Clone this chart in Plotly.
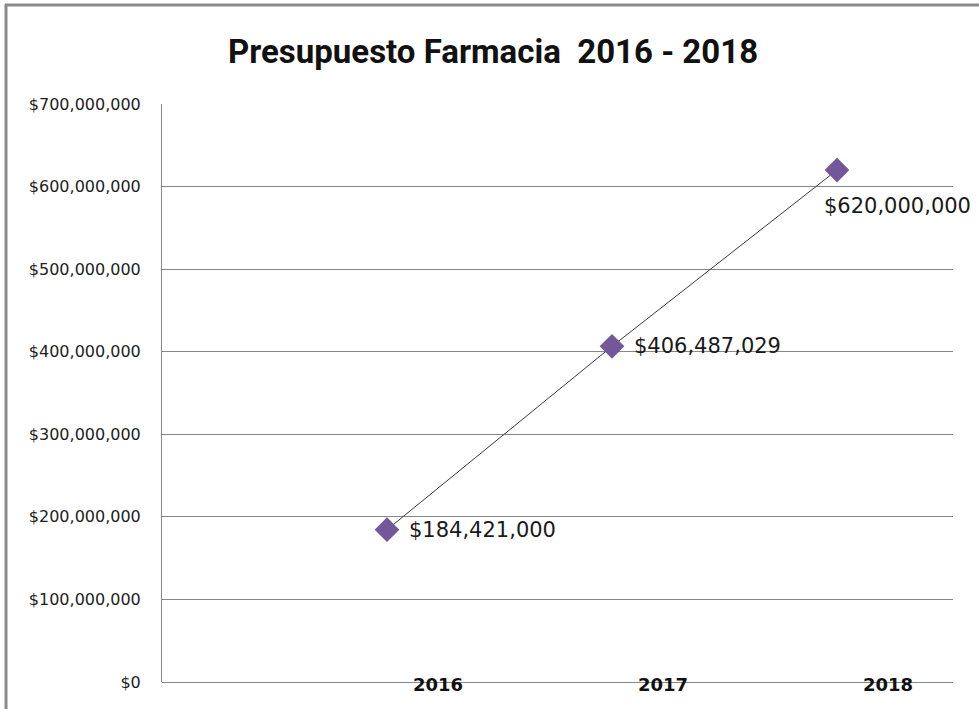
import plotly.graph_objects as go

years = ["2016", "2017", "2018"]
values = [184421000, 406487029, 620000000]
value_labels = ["$184,421,000", "$406,487,029", "$620,000,000"]
y_ticks = [0, 100000000, 200000000, 300000000, 400000000, 500000000, 600000000, 700000000]
y_tick_labels = ["$0", "$100,000,000", "$200,000,000", "$300,000,000", "$400,000,000",
                 "$500,000,000", "$600,000,000", "$700,000,000"]

W, H = 979, 709
L, R, T, B = 162, 26, 104, 27
pw, ph = W - L - R, H - T - B

xs = list(range(len(years)))

fig = go.Figure()
fig.add_trace(go.Scatter(
    x=xs, y=values, mode="lines+markers",
    line=dict(color="#3a3a3a", width=1),
    marker=dict(symbol="diamond", size=19, color="#72589a"),
    hoverinfo="skip", showlegend=False,
))

annotations = []
shifts = [(20, 0, "left", "middle"), (20, 0, "left", "middle"), (-15, -22, "left", "top")]
for x, v, t, (dx, dy, xa, ya) in zip(xs, values, value_labels, shifts):
    annotations.append(dict(x=x, y=v, xref="x", yref="y", text=t, showarrow=False,
                            xanchor=xa, yanchor=ya, xshift=dx, yshift=dy,
                            font=dict(family="DejaVu Sans", size=21, color="#1a1a1a")))
for x, yr in zip(xs, years):
    annotations.append(dict(x=x, y=0, xref="x", yref="y", text="<b>%s</b>" % yr, showarrow=False,
                            xanchor="center", yanchor="middle", xshift=51, yshift=-2,
                            font=dict(family="DejaVu Sans", size=18, color="#111111")))
annotations.append(dict(x=(493 - L) / pw, y=(H - B - 52) / ph, xref="paper", yref="paper",
                        text="<b>Presupuesto Farmacia  2016 - 2018</b>", showarrow=False,
                        xanchor="center", yanchor="middle",
                        font=dict(family="Roboto", size=33, color="#111111")))

shapes = [
    dict(type="line", xref="paper", yref="paper",
         x0=(5 - L) / pw, x1=(W + 5 - L) / pw, y0=(H - B - 5) / ph, y1=(H - B - 5) / ph,
         line=dict(color="#8a8a8a", width=3)),
    dict(type="line", xref="paper", yref="paper",
         x0=(6 - L) / pw, x1=(6 - L) / pw, y0=(H - B - 4) / ph, y1=(H - B - H - 10) / ph,
         line=dict(color="#8a8a8a", width=3)),
]

fig.update_layout(
    width=W, height=H,
    margin=dict(l=L, r=R, t=T, b=B, pad=0),
    paper_bgcolor="white", plot_bgcolor="white",
    xaxis=dict(range=[(L - 387) / 225, (L + pw - 387) / 225], showticklabels=False,
               showgrid=False, zeroline=False, showline=False, fixedrange=True),
    yaxis=dict(range=[0, 700000000], tickvals=y_ticks, ticktext=y_tick_labels,
               showgrid=True, gridcolor="#878787", gridwidth=1,
               zeroline=True, zerolinecolor="#878787", zerolinewidth=1,
               showline=True, linecolor="#878787", linewidth=1,
               ticks="", ticklabelstandoff=17,
               tickfont=dict(family="DejaVu Sans", size=16, color="#222222")),
    annotations=annotations, shapes=shapes,
)

fig.write_html("out.html", config={"displayModeBar": False},
               post_script="document.body.style.margin='0';document.body.style.overflow='hidden';")
